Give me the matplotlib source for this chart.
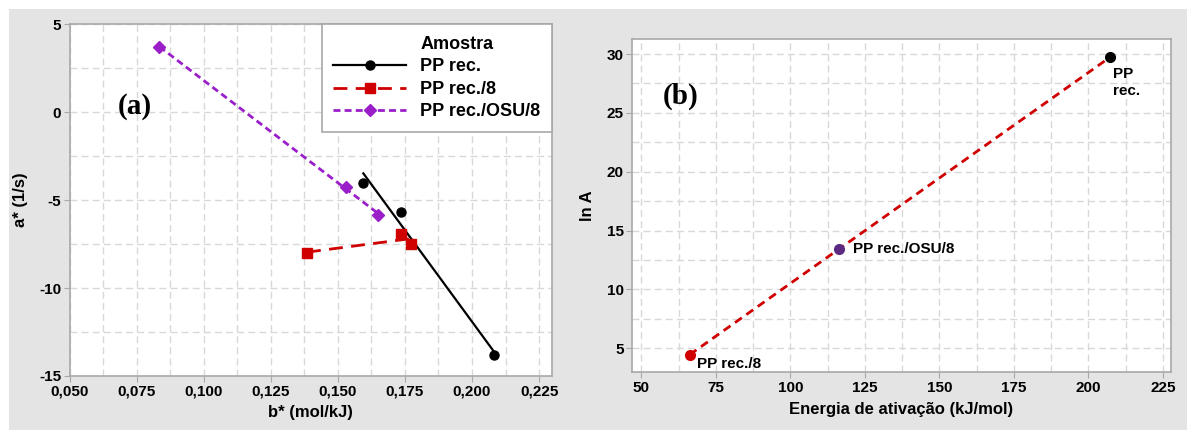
import numpy as np
import matplotlib
matplotlib.use("Agg")
import matplotlib.pyplot as plt
from matplotlib.lines import Line2D
from matplotlib.patches import Rectangle
from matplotlib.ticker import MultipleLocator, FuncFormatter

plt.rcParams["font.family"] = ["Liberation Sans", "DejaVu Sans"]
plt.rcParams["font.weight"] = "bold"
plt.rcParams["axes.unicode_minus"] = False

# panel (a): b* vs a* for each sample
b_pp = [0.1595, 0.1736, 0.2082]
a_pp = [-4.0, -5.68, -13.83]
b_pp8 = [0.1385, 0.1736, 0.1774]
a_pp8 = [-7.99, -6.93, -7.48]
b_osu = [0.0835, 0.1531, 0.1650]
a_osu = [3.71, -4.25, -5.86]
labels_a = ["PP rec.", "PP rec./8", "PP rec./OSU/8"]

# panel (b): activation energy vs ln A
energia = [207.2, 116.4, 66.2]
ln_a = [29.72, 13.44, 4.46]
labels_b = ["PP\nrec.", "PP rec./OSU/8", "PP rec./8"]

BG = "#e4e4e4"
GRID = "#d8d8d8"
SPINE = "#a8a8a8"

fig = plt.figure(figsize=(11.87, 4.30), dpi=100, facecolor=BG)
# white strips at top and left of the original screenshot
fig.patches.append(Rectangle((0, 1 - 9 / 430), 1, 9 / 430, transform=fig.transFigure,
                             facecolor="white", edgecolor="none", zorder=-1))
fig.patches.append(Rectangle((0, 0), 9 / 1187, 1, transform=fig.transFigure,
                             facecolor="white", edgecolor="none", zorder=-1))


def style_axes(ax):
    ax.set_facecolor("white")
    for s in ax.spines.values():
        s.set_color(SPINE)
        s.set_linewidth(1.2)
    ax.grid(True, which="both", color=GRID, linestyle=(0, (5, 3)), linewidth=1)
    ax.set_axisbelow(True)
    ax.tick_params(which="major", length=4, color=SPINE, labelsize=11, pad=2)
    ax.tick_params(which="minor", length=0)
    for t in ax.get_xticklabels() + ax.get_yticklabels():
        t.set_fontweight("bold")


# ---- (a)
ax1 = fig.add_axes([0.0586, 0.1256, 0.4064, 0.8179])

series = [
    (b_pp, a_pp, "black", "o", "-", 6.5, 1.6),
    (b_pp8, a_pp8, "#d00000", "s", (0, (5, 3)), 6.5, 2.0),
    (b_osu, a_osu, "#9a1fc8", "D", (0, (2.5, 1.5)), 6, 2.0),
]
# first legend row is the title "Amostra", aligned with the labels
handles = [Line2D([], [], linestyle="none", label="Amostra")]
for (x, y, c, m, ls, ms, lw), lab in zip(series, labels_a):
    x = np.array(x)
    y = np.array(y)
    k, b0 = np.polyfit(x, y, 1)
    xs = np.array([x.min(), x.max()])
    ax1.plot(xs, k * xs + b0, color=c, linestyle=ls, linewidth=lw, zorder=3)
    ax1.plot(x, y, linestyle="none", marker=m, color=c, markersize=ms, zorder=4)
    handles.append(Line2D([], [], color=c, linestyle=ls, linewidth=lw,
                          marker=m, markersize=ms, label=lab))

ax1.set_xlim(0.05, 0.2298)
ax1.set_ylim(-15, 5)
ax1.xaxis.set_major_locator(MultipleLocator(0.025))
ax1.xaxis.set_minor_locator(MultipleLocator(0.0125))
ax1.yaxis.set_major_locator(MultipleLocator(5))
ax1.yaxis.set_minor_locator(MultipleLocator(2.5))
ax1.xaxis.set_major_formatter(FuncFormatter(lambda v, p: f"{v:.3f}".replace(".", ",")))
style_axes(ax1)
ax1.set_xlabel("b* (mol/kJ)", fontsize=12, fontweight="bold", labelpad=5)
ax1.set_ylabel("a* (1/s)", fontsize=12, fontweight="bold", labelpad=8)

leg = ax1.legend(handles=handles, loc="upper right", borderaxespad=0,
                 fancybox=False, framealpha=1, fontsize=13, handlelength=4.0,
                 borderpad=0.65, labelspacing=0.3, handletextpad=0.8)
leg.get_frame().set_edgecolor(SPINE)
leg.get_frame().set_linewidth(1.2)
for t in leg.get_texts():
    t.set_fontweight("bold")

ax1.text(0.135, 0.765, "(a)", transform=ax1.transAxes, ha="center", va="center",
         fontsize=21, fontweight="bold", family=["Liberation Serif", "DejaVu Serif"])

# ---- (b)
ax2 = fig.add_axes([0.5323, 0.1342, 0.4538, 0.7744])

k, b0 = np.polyfit(energia, ln_a, 1)
xs = np.array([min(energia), max(energia)])
ax2.plot(xs, k * xs + b0, color="#d00000", linestyle=(0, (3, 2)), linewidth=2, zorder=3)
pt_colors = ["black", "#5b2a80", "#d00000"]
offsets = [(2, -7), (10, 0), (5, -7)]
vas = ["top", "center", "center"]
for x, y, c, lab, off, va in zip(energia, ln_a, pt_colors, labels_b, offsets, vas):
    ax2.plot(x, y, marker="o", color=c, markersize=7, linestyle="none", zorder=4)
    ax2.annotate(lab, (x, y), xytext=off, textcoords="offset points",
                 ha="left", va=va, fontsize=11, fontweight="bold", linespacing=1.3)

ax2.set_xlim(46.8, 227.55)
ax2.set_ylim(2.96, 31.25)
ax2.xaxis.set_major_locator(MultipleLocator(25))
ax2.xaxis.set_minor_locator(MultipleLocator(12.5))
ax2.yaxis.set_major_locator(MultipleLocator(5))
ax2.yaxis.set_minor_locator(MultipleLocator(2.5))
style_axes(ax2)
ax2.set_xlabel("Energia de ativação (kJ/mol)", fontsize=12, fontweight="bold", labelpad=5)
ax2.set_ylabel("ln A", fontsize=12, fontweight="bold", labelpad=8)

ax2.text(0.09, 0.83, "(b)", transform=ax2.transAxes, ha="center", va="center",
         fontsize=21, fontweight="bold", family=["Liberation Serif", "DejaVu Serif"])

fig.savefig("out.png", dpi=100, facecolor=fig.get_facecolor())
